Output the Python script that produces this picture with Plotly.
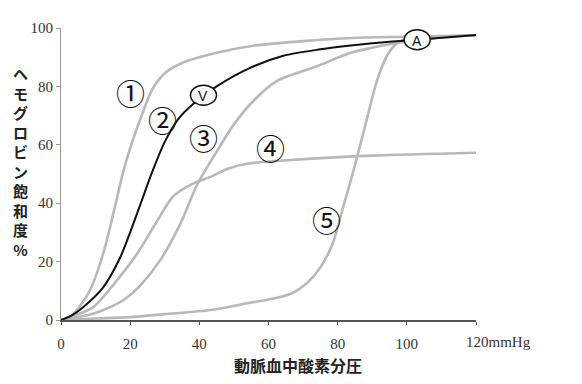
import plotly.graph_objects as go

# ---- data ----
curve1_x = [0, 3, 5, 8.4, 12.2, 15.1, 18, 20.6, 23, 26.4, 30, 35, 45, 56, 70, 84, 100, 120]
curve1_y = [0, 1.5, 4, 10.2, 22.7, 36.3, 50.8, 61, 69, 79, 84.5, 88, 91.5, 94, 95.5, 96.6, 97, 97.5]

curve2_x = [0, 3, 6.4, 12.2, 17.1, 20.9, 23.5, 26.4, 30, 34, 38.8, 45, 55, 64.3, 75, 83.8, 95, 103, 120]
curve2_y = [0, 1.5, 4.4, 11.2, 21.4, 32.9, 41.4, 50.8, 61, 69, 74.6, 80, 86.5, 90.5, 92.7, 94, 95.3, 96, 97.6]

curve3_x = [0, 5, 9.9, 14.2, 18.5, 22.9, 28.7, 34.5, 39.4, 45.5, 50, 56, 62.6, 74.2, 83.8, 97.4, 103, 120]
curve3_y = [0, 1, 2.4, 4.4, 7.2, 11.8, 20.5, 32.9, 46.4, 58.6, 67, 75.5, 82, 87, 91.5, 95, 96, 97.6]

curve4_x = [0, 4, 9.3, 16.2, 22, 27.8, 32.5, 38.3, 43.2, 48.4, 54.2, 69, 90, 120]
curve4_y = [0, 1.5, 4.4, 13.6, 22.7, 33.9, 42.4, 46.8, 49, 51.9, 53.6, 55, 56.3, 57.3]

curve5_x = [0, 10, 20, 30, 43.2, 54.2, 60, 66.5, 71, 75, 78.5, 81.5, 84.5, 87.5, 91.5, 94.5, 97.4, 100, 110, 120]
curve5_y = [0, 0.5, 1, 2, 3.4, 5.8, 7, 9, 12.5, 18, 26, 38.3, 50.8, 64.4, 82.4, 91, 95, 96.3, 97, 97.5]

curve_labels = ["①", "②", "③", "④", "⑤"]
label_x = [20, 29.3, 41.2, 60.6, 76.8]
label_y = [78, 68.8, 62.7, 59.3, 34.6]

point_names = ["V", "A"]
point_x = [41.2, 103]
point_y = [77, 96]

x_tickvals = [0, 20, 40, 60, 80, 100, 120]
x_ticktext = ["0", "20", "40", "60", "80", "100", ""]
y_tickvals = [0, 20, 40, 60, 80, 100]
y_ticktext = ["0", "20", "40", "60", "80", "100"]

y_title = ["ヘ", "モ", "グ", "ロ", "ビ", "ン", "飽", "和", "度", "%"]
x_title = "動脈血中酸素分圧"
x_unit = "120mmHg"

# ---- figure ----
fig = go.Figure()
GRAY = "#b8b8b8"
for xs, ys in [(curve5_x, curve5_y), (curve4_x, curve4_y), (curve3_x, curve3_y), (curve1_x, curve1_y)]:
    fig.add_trace(go.Scatter(x=xs, y=ys, mode="lines", line=dict(color=GRAY, width=2.6, shape="spline", smoothing=0.8),
                             cliponaxis=False, hoverinfo="skip", showlegend=False))
fig.add_trace(go.Scatter(x=curve2_x, y=curve2_y, mode="lines", line=dict(color="#111", width=2.0, shape="spline", smoothing=0.8),
                         cliponaxis=False, hoverinfo="skip", showlegend=False))

shapes = []
annotations = []
for nm, px, py in zip(point_names, point_x, point_y):
    shapes.append(dict(type="circle", xref="x", yref="y", xsizemode="pixel", ysizemode="pixel",
                       xanchor=px, yanchor=py, x0=-13, x1=13, y0=-10, y1=10,
                       fillcolor="white", line=dict(color="#111", width=1.5), layer="above"))
    annotations.append(dict(x=px, y=py, xref="x", yref="y", text=nm, showarrow=False,
                            font=dict(family="Liberation Sans", size=14, color="#111"), yshift=-1))

for t, lx, ly in zip(curve_labels, label_x, label_y):
    annotations.append(dict(x=lx, y=ly, xref="x", yref="y", text=t, showarrow=False,
                            font=dict(family="Noto Sans CJK JP", size=29, color="#111")))

annotations.append(dict(x=(20 - 61) / 415, y=(320 - 160) / 295, xref="x domain", yref="y domain",
                        text="<br>".join("<b>" + c + "</b>" for c in y_title), showarrow=False,
                        xanchor="center", yanchor="middle",
                        font=dict(family="Noto Sans CJK JP", size=15, color="#222")))
annotations.append(dict(x=(298 - 61) / 415, y=(320 - 365) / 295, xref="x domain", yref="y domain",
                        text="<b>" + x_title + "</b>", showarrow=False, xanchor="center", yanchor="middle",
                        font=dict(family="Noto Sans CJK JP", size=16, color="#222")))
annotations.append(dict(x=120, y=0, xref="x", yref="y", text=x_unit, showarrow=False, xanchor="left",
                        yanchor="middle", xshift=-12, yshift=-22,
                        font=dict(family="Liberation Serif", size=15, color="#333")))

# page body has an 8px default margin; compensate so the plot area lands where the reference has it
fig.update_layout(
    width=582, height=384, margin=dict(l=53, r=114, t=17, b=72),
    plot_bgcolor="white", paper_bgcolor="white",
    shapes=shapes, annotations=annotations, showlegend=False,
    xaxis=dict(range=[0, 120], tickvals=x_tickvals, ticktext=x_ticktext, showgrid=False, zeroline=False,
               showline=True, linecolor="#555", linewidth=1.5, ticks="outside", ticklen=3, tickcolor="#555",
               tickfont=dict(family="Liberation Serif", size=15, color="#333"), ticklabelstandoff=6),
    yaxis=dict(range=[0, 100], tickvals=y_tickvals, ticktext=y_ticktext, showgrid=False, zeroline=False,
               showline=True, linecolor="#999", linewidth=1.2, ticks="outside", ticklen=4, tickcolor="#999",
               tickfont=dict(family="Liberation Serif", size=15, color="#333")),
)

fig.write_html("out.html")
